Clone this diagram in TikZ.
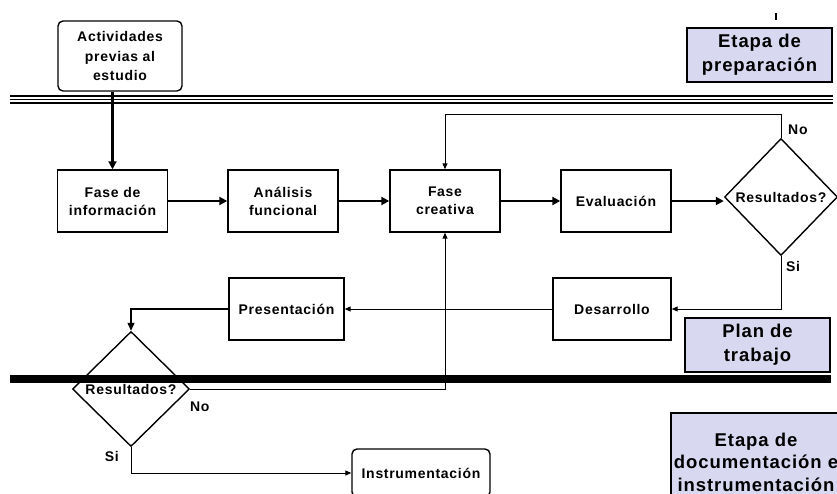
\documentclass[tikz,border=0pt]{standalone}
\usepackage{fontspec}
\setmainfont{Liberation Sans}[LetterSpace=5.0]
\usepackage{tikz}
\usetikzlibrary{arrows.meta, positioning, shapes.geometric}
\definecolor{stagefill}{RGB}{216,216,240}

\begin{document}
\begin{tikzpicture}[
  x=1pt, y=-1pt,
  box/.style={rectangle, draw, line width=1.4pt, minimum width=110pt, minimum height=62pt, align=center, inner sep=2pt, font=\fontsize{14}{18}\selectfont\bfseries},
  roundbox/.style={box, rounded corners=5pt},
  decision/.style={diamond, draw, line width=1.4pt, fill=white, inner sep=0pt, minimum width=113pt, minimum height=117pt, font=\fontsize{14}{17}\selectfont\bfseries},
  stage/.style={rectangle, draw, line width=1.4pt, fill=stagefill, minimum width=145pt, minimum height=54pt, align=center, inner sep=2pt, font=\fontsize{18.5}{24}\selectfont\bfseries},
  arrow/.style={-{Triangle[length=8pt, width=8pt]}, line width=2.8pt},
  thinarrow/.style={-{Triangle[length=6pt, width=5pt]}, line width=1pt},
  tag/.style={font=\fontsize{14}{17}\selectfont\bfseries, inner sep=0pt}
]
\useasboundingbox (0,0) rectangle (837,494);

% Stage labels
\node[stage] (prep) at (759.5,55) {Etapa de\\preparación};
\node[stage] (plan) at (757.5,345) {Plan de\\trabajo};
\node[stage, minimum width=170pt, minimum height=98pt, font=\fontsize{18.5}{22.5}\selectfont\bfseries] (doc) at (756,462) {Etapa de\\documentación e\\instrumentación};
\draw[line width=1.5pt] (776,13) -- (776,20);

% Nodes of the flow
\node[roundbox, minimum width=124pt, minimum height=70pt, font=\fontsize{14}{19.5}\selectfont\bfseries] (prev) at (120,56) {Actividades\\previas al\\estudio};
\node[box] (info) at (112.5,201) {Fase de\\información};
\node[box] (func) at (283,201) {Análisis\\funcional};
\node[box] (crea) at (445,201) {Fase\\creativa};
\node[box] (eval) at (616,201) {Evaluación};
\node[decision] (res1) at (781,197) {Resultados?};
\node[box, minimum width=118pt] (desa) at (612,309) {Desarrollo};
\node[box, minimum width=115pt] (pres) at (286.5,309) {Presentación};
\node[decision, minimum width=117pt, minimum height=115pt] (res2) at (131,389) {Resultados?};
\node[roundbox, minimum width=138pt, minimum height=48pt] (inst) at (421,473) {Instrumentación};

% Stage separators
\foreach \y in {96,99.5,103} {
  \draw[line width=1.7pt] (10,\y) -- (833,\y);
}
\draw[line width=8pt] (10,379) -- (831,379);

% Main flow
\draw[arrow] (prev.south -| info.north) -- (info.north);
\draw[arrow] (info) -- (func);
\draw[arrow] (func) -- (crea);
\draw[arrow] (crea) -- (eval);
\draw[arrow] (eval) -- (eval -| res1.west);

% Decisions
\draw[thinarrow] (res1.north) -- ++(0,-23) -| (crea.north);
\node[tag, anchor=west] (no1) at (788,130) {No};
\draw[thinarrow] (res1.south) |- (desa.east);
\node[tag, anchor=west] (si1) at (786,266) {Si};
\draw[thinarrow] (desa.west) -- (pres.east);
\draw[-{Triangle[length=8pt, width=7pt]}, line width=1.2pt] (pres.west) -| (res2.north);
\draw[thinarrow] (res2.east) -| (crea.south);
\node[tag, anchor=west] (no2) at (190,407) {No};
\draw[thinarrow] (res2.south) |- (inst.west);
\node[tag, anchor=east] (si2) at (119,456) {Si};

\end{tikzpicture}
\end{document}
